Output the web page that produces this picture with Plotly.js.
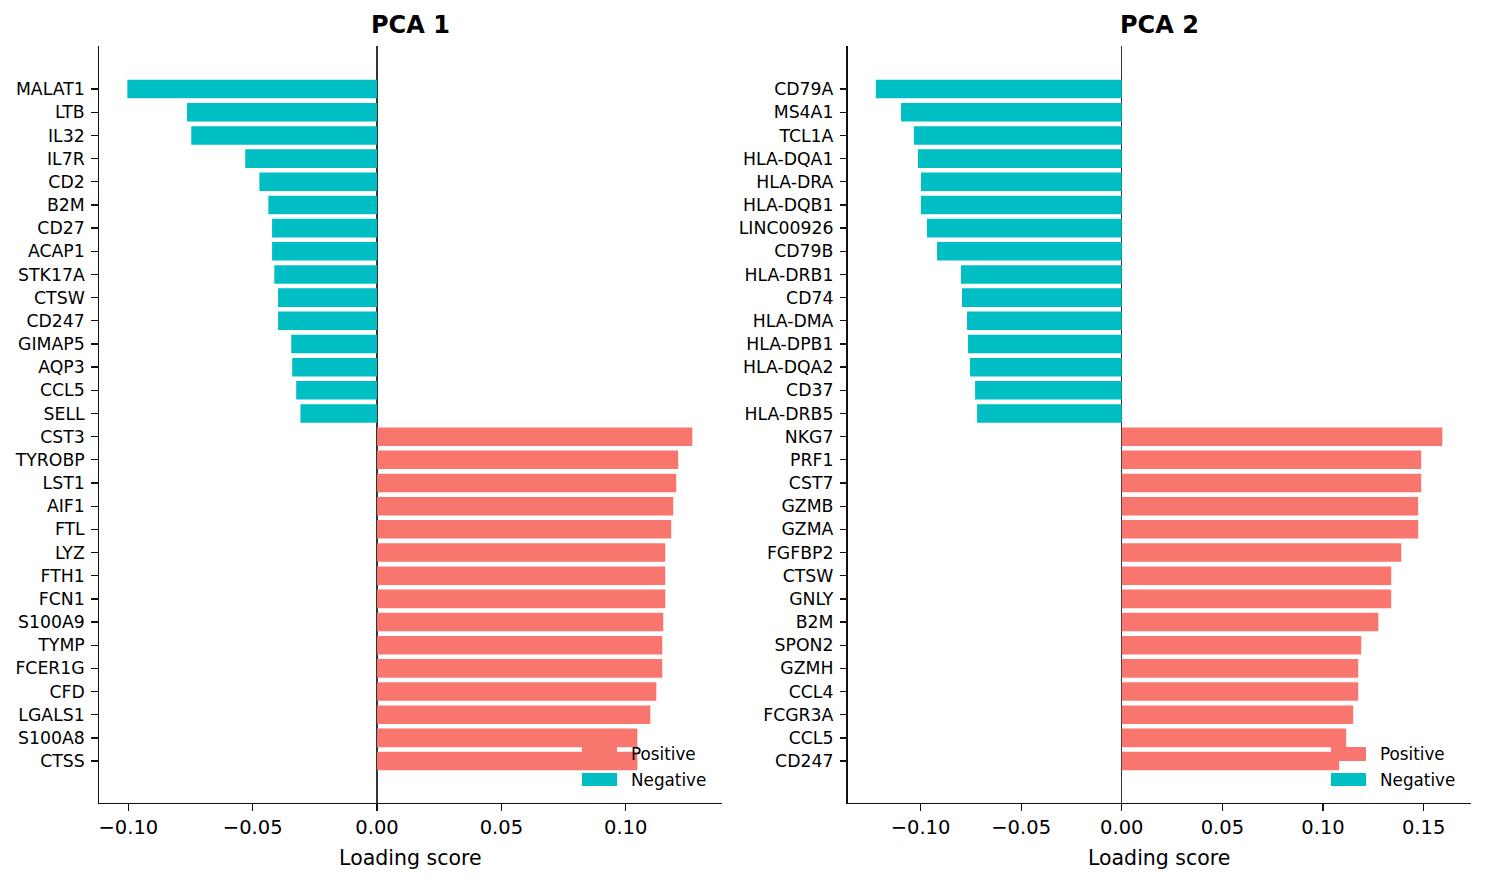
<!DOCTYPE html>
<html>
<head>
<meta charset="utf-8">
<script src="https://cdn.plot.ly/plotly-3.0.1.min.js"></script>
<style>html,body{margin:0;padding:0;background:#fff;}#chart{width:1485px;height:884px;}</style>
</head>
<body>
<div id="chart"></div>
<script>
// ---- Data ----
const titles = ["PCA 1", "PCA 2"];
const seriesNames = ["Positive", "Negative"];

const genes1 = ["MALAT1","LTB","IL32","IL7R","CD2","B2M","CD27","ACAP1","STK17A","CTSW","CD247","GIMAP5","AQP3","CCL5","SELL",
  "CST3","TYROBP","LST1","AIF1","FTL","LYZ","FTH1","FCN1","S100A9","TYMP","FCER1G","CFD","LGALS1","S100A8","CTSS"];
const values1 = [-0.1004,-0.0764,-0.0747,-0.0530,-0.0473,-0.0437,-0.0422,-0.0422,-0.0413,-0.0398,-0.0398,-0.0345,-0.0341,-0.0325,-0.0308,
  0.1268,0.1211,0.1203,0.1191,0.1183,0.1159,0.1159,0.1159,0.1151,0.1147,0.1147,0.1123,0.1099,0.1047,0.1047];

const genes2 = ["CD79A","MS4A1","TCL1A","HLA-DQA1","HLA-DRA","HLA-DQB1","LINC00926","CD79B","HLA-DRB1","CD74","HLA-DMA","HLA-DPB1","HLA-DQA2","CD37","HLA-DRB5",
  "NKG7","PRF1","CST7","GZMB","GZMA","FGFBP2","CTSW","GNLY","B2M","SPON2","GZMH","CCL4","FCGR3A","CCL5","CD247"];
const values2 = [-0.1222,-0.1097,-0.1033,-0.1013,-0.0998,-0.0998,-0.0968,-0.0918,-0.0799,-0.0794,-0.0769,-0.0764,-0.0754,-0.0729,-0.0719,
  0.1593,0.1488,0.1488,0.1473,0.1473,0.1389,0.1339,0.1339,0.1275,0.1190,0.1175,0.1175,0.1150,0.1115,0.1080];

const xTicks1 = [-0.10,-0.05,0.00,0.05,0.10];
const xTicks2 = [-0.10,-0.05,0.00,0.05,0.10,0.15];

// ---- Style ----
const POS = "#F8766D", NEG = "#00BFC4";
const FONT = "DejaVu Sans, Liberation Sans, sans-serif";
const W = 1485, H = 884;

function split(genes, vals, sign) {
  const y = [], x = [];
  genes.forEach((g, i) => { if ((sign > 0 && vals[i] >= 0) || (sign < 0 && vals[i] < 0)) { y.push(g); x.push(vals[i]); } });
  return {x, y};
}

const traces = [];
[[genes1, values1, "x", "y"], [genes2, values2, "x2", "y2"]].forEach(([g, v, xa, ya]) => {
  const p = split(g, v, 1), n = split(g, v, -1);
  traces.push({type: "bar", orientation: "h", name: seriesNames[0], x: p.x, y: p.y, xaxis: xa, yaxis: ya,
    marker: {color: POS, line: {width: 0}}, width: 0.8, showlegend: false, hoverinfo: "x+y"});
  traces.push({type: "bar", orientation: "h", name: seriesNames[1], x: n.x, y: n.y, xaxis: xa, yaxis: ya,
    marker: {color: NEG, line: {width: 0}}, width: 0.8, showlegend: false, hoverinfo: "x+y"});
});

const px = v => v / W, py = v => 1 - v / H;
const yTop = py(46), yBot = py(803);
const nCat = genes1.length;
const yRange = [nCat - 1 + 1.81, -1.86];

function xaxis(domain, range, ticks) {
  return {
    domain: domain, range: range, tickvals: ticks, tickformat: ".2f",
    showline: true, linecolor: "#111", linewidth: 1.3, mirror: false,
    ticks: "outside", ticklen: 6.5, tickwidth: 1.3, tickcolor: "#111",
    showgrid: false, zeroline: true, zerolinecolor: "#333", zerolinewidth: 1.3,
    tickfont: {family: FONT, size: 19.5, color: "#000"},
    title: {text: "Loading score", font: {family: FONT, size: 20.5, color: "#000"}, standoff: 12},
    automargin: false, fixedrange: true
  };
}
function yaxis(anchor, genes) {
  return {
    anchor: anchor, domain: [yBot, yTop], type: "category", categoryorder: "array", categoryarray: genes,
    range: yRange, showline: true, linecolor: "#111", linewidth: 1.3,
    ticks: "outside", ticklen: 6.5, tickwidth: 1.3, tickcolor: "#111", ticklabelstandoff: 3,
    showgrid: false, zeroline: false, tickfont: {family: FONT, size: 17.3, color: "#000"},
    automargin: false, fixedrange: true
  };
}

const dom1 = [px(99), px(721.7)], dom2 = [px(847.7), px(1470.7)];

const shapes = [], annotations = [];
// titles
[[dom1, titles[0]], [dom2, titles[1]]].forEach(([d, t]) => {
  annotations.push({xref: "paper", yref: "paper", x: (d[0] + d[1]) / 2, y: py(25), text: "<b>" + t + "</b>",
    showarrow: false, xanchor: "center", yanchor: "middle", font: {family: FONT, size: 24, color: "#000"}});
});
// legends (drawn over bars, no frame)
[[582, 629], [1331, 1378]].forEach(([x0, tx]) => {
  [[POS, seriesNames[0], 747, 761, 754], [NEG, seriesNames[1], 773, 786, 780]].forEach(([c, name, y0, y1, ty]) => {
    shapes.push({type: "rect", xref: "paper", yref: "paper", x0: px(x0), x1: px(x0 + 35), y0: py(y1), y1: py(y0),
      fillcolor: c, line: {width: 0}, layer: "above"});
    annotations.push({xref: "paper", yref: "paper", x: px(tx), y: py(ty), text: name, showarrow: false,
      xanchor: "left", yanchor: "middle", font: {family: FONT, size: 16.8, color: "#000"}});
  });
});

const layout = {
  width: W, height: H, margin: {l: 0, r: 0, t: 0, b: 0},
  paper_bgcolor: "#fff", plot_bgcolor: "#fff", barmode: "overlay", showlegend: false,
  font: {family: FONT, color: "#000"},
  xaxis: Object.assign(xaxis(dom1, [-0.1118, 0.1386], xTicks1), {anchor: "y"}),
  yaxis: yaxis("x", genes1),
  xaxis2: Object.assign(xaxis(dom2, [-0.1362, 0.1734], xTicks2), {anchor: "y2"}),
  yaxis2: yaxis("x2", genes2),
  shapes: shapes, annotations: annotations
};

Plotly.newPlot("chart", traces, layout, {displayModeBar: false, staticPlot: true});
</script>
</body>
</html>
